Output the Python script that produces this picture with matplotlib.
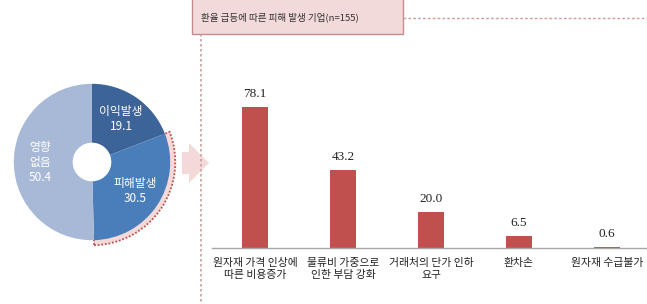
import numpy as np
import matplotlib
matplotlib.use("Agg")
import matplotlib.pyplot as plt
from matplotlib.patches import Wedge, Rectangle, FancyArrow

plt.rcParams['font.family'] = ['Noto Sans CJK KR', 'DejaVu Sans']

# ---- data ----
pie_labels = ['이익발생', '피해발생', '영향\n없음']
pie_values = [19.1, 30.5, 50.4]
pie_colors = ['#3D6498', '#4A7EBB', '#A8B9D7']

bar_categories = ['원자재 가격 인상에\n따른 비용증가', '물류비 가중으로\n인한 부담 강화',
                  '거래처의 단가 인하\n요구', '환차손', '원자재 수급불가']
bar_values = [78.1, 43.2, 20.0, 6.5, 0.6]
title_text = '환율 급등에 따른 피해 발생 기업(n=155)'

W, H = 647, 304
fig = plt.figure(figsize=(W / 100, H / 100), dpi=100)

# ---- overlay for decorations (pixel coords) ----
ov = fig.add_axes([0, 0, 1, 1], zorder=0)
ov.set_xlim(0, W)
ov.set_ylim(H, 0)
ov.axis('off')
ov.add_patch(Rectangle((192, -2), 211, 36, facecolor='#F2D9DA', edgecolor='#C98A8C', lw=1.0))
ov.text(201, 17, title_text, fontsize=6.9, va='center', ha='left', color='#333333')
ov.plot([403, W], [18, 18], ls=(0, (2, 1.5)), color='#C9A0A0', lw=1.0)
ov.plot([201, 201], [34, H], ls=(0, (1.5, 1.5)), color='#C9A0A0', lw=1.2)
ov.add_patch(FancyArrow(182, 163, 27, 0, width=22, head_width=40, head_length=20,
                        length_includes_head=True, facecolor='#F3D9D8', edgecolor='none'))

# ---- pie ----
cx, cy, R = 92, 162, 85
lim = 1.15
half = R * lim
pax = fig.add_axes([(cx - half) / W, (H - cy - half) / H, 2 * half / W, 2 * half / H], zorder=1)
pax.set_xlim(-lim, lim)
pax.set_ylim(-lim, lim)
pax.axis('off')

wedges, _ = pax.pie(pie_values, colors=pie_colors, startangle=90, counterclock=False,
                    radius=1.0, wedgeprops=dict(width=1 - 21 / 85, edgecolor='none'))
# highlight band around damaged slice
w = wedges[1]
hl = Wedge((0, 0), 1.065, w.theta1, w.theta2, width=0.12, facecolor='#F3D9D8', edgecolor='#C0504D',
           lw=1.3, ls=(0, (1, 1)), zorder=0)
pax.add_patch(hl)

for wd, lab, val in zip(wedges, pie_labels, pie_values):
    ang = np.deg2rad((wd.theta1 + wd.theta2) / 2)
    r = 0.66
    pax.text(r * np.cos(ang), r * np.sin(ang), f'{lab}\n{val:.1f}', ha='center', va='center',
             color='white', fontsize=8.5, linespacing=1.2, zorder=5)

# ---- bars ----
base_y = 248
ppu = 141 / 78.1
ax_top = 40
bax = fig.add_axes([212 / W, (H - base_y) / H, (W - 212) / W, (base_y - ax_top) / H], zorder=1)
bax.patch.set_alpha(0)
x = np.arange(len(bar_values))
bax.bar(x, bar_values, width=26 / 88, color='#C0504D')
bax.set_xlim(-(255 - 212) / 88, (W - 255) / 88)
bax.set_ylim(0, (base_y - ax_top) / ppu)
for s in ['top', 'right', 'left']:
    bax.spines[s].set_visible(False)
bax.spines['bottom'].set_color('#A6A6A6')
bax.spines['bottom'].set_linewidth(1.0)
bax.set_yticks([])
bax.set_xticks(x)
bax.set_xticklabels(bar_categories, fontsize=7.8, linespacing=1.3, color='#222222')
bax.tick_params(axis='x', length=0, pad=7)
for xi, v in zip(x, bar_values):
    bax.annotate(f'{v:.1f}', (xi, v), xytext=(0, 5), textcoords='offset points',
                 ha='center', va='bottom', fontsize=9.5, family='Liberation Serif', color='#222222')

fig.savefig('out.png', dpi=100)
